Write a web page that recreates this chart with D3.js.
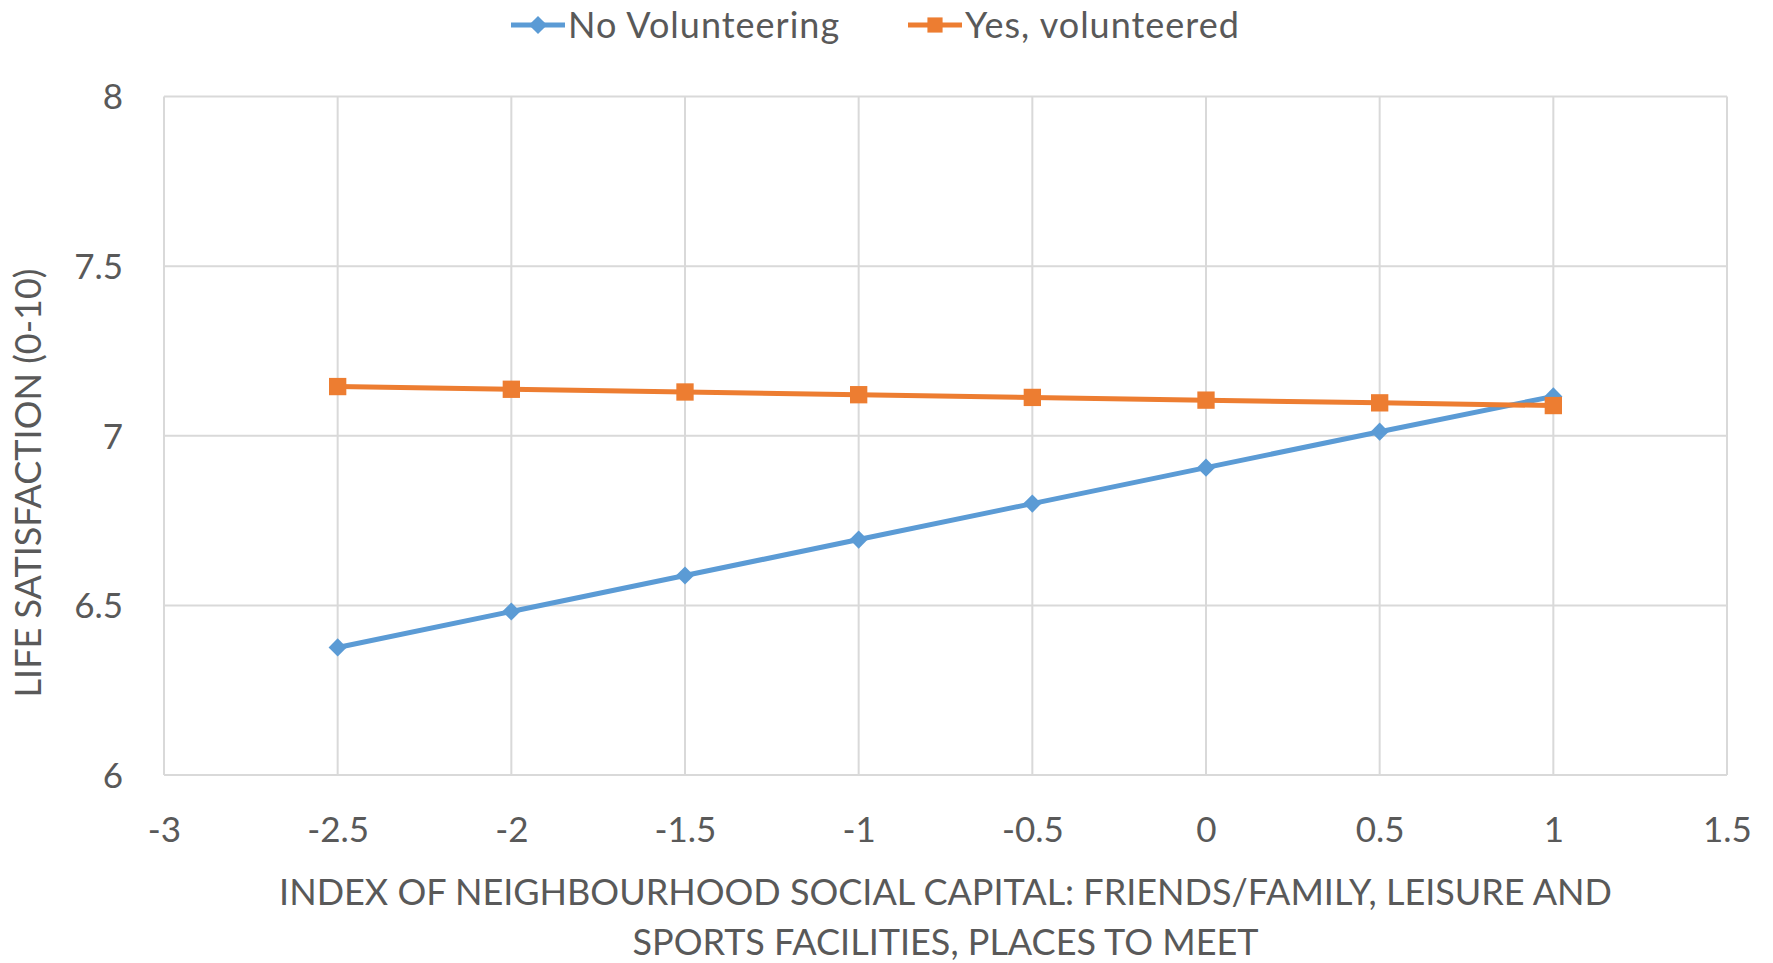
<!DOCTYPE html>
<html>
<head>
<meta charset="utf-8">
<script src="https://cdn.jsdelivr.net/npm/d3@7"></script>
<style>
  html, body { margin: 0; padding: 0; background: #fff; }
  svg { display: block; font-family: Lato, "Open Sans", sans-serif; }
</style>
</head>
<body>
<svg id="chart" width="1773" height="963"></svg>
<script>
// Predicted life satisfaction across the neighbourhood social capital index
const xValues = [-2.5, -2, -1.5, -1, -0.5, 0, 0.5, 1];
const noVolunteering = [6.376, 6.482, 6.588, 6.694, 6.800, 6.906, 7.012, 7.116];
const yesVolunteered = [7.145, 7.137, 7.129, 7.121, 7.113, 7.105, 7.097, 7.089];
const xTicks = [-3, -2.5, -2, -1.5, -1, -0.5, 0, 0.5, 1, 1.5];
const yTicks = [6, 6.5, 7, 7.5, 8];
const seriesNames = ["No Volunteering", "Yes, volunteered"];
const xTitleLines = ["INDEX OF NEIGHBOURHOOD SOCIAL CAPITAL: FRIENDS/FAMILY, LEISURE AND",
                     "SPORTS FACILITIES, PLACES TO MEET"];
const yTitle = "LIFE SATISFACTION (0-10)";

const textColor = "#595959";
const gridColor = "#d9d9d9";
const colors = ["#5b9bd5", "#ed7d31"];

const svg = d3.select("#chart");
const plot = { left: 164, right: 1727, top: 96.5, bottom: 775 };

const x = d3.scaleLinear().domain([-3, 1.5]).range([plot.left, plot.right]);
const y = d3.scaleLinear().domain([6, 8]).range([plot.bottom, plot.top]);
// Plain hyphen for negatives
const fmt = d => String(d);

// Gridlines
const grid = svg.append("g");
grid.selectAll("line.v").data(xTicks).join("line")
  .attr("x1", d => x(d)).attr("x2", d => x(d))
  .attr("y1", plot.top).attr("y2", plot.bottom)
  .attr("stroke", gridColor).attr("stroke-width", 2);
grid.selectAll("line.h").data(yTicks).join("line")
  .attr("x1", plot.left).attr("x2", plot.right)
  .attr("y1", d => y(d)).attr("y2", d => y(d))
  .attr("stroke", gridColor).attr("stroke-width", 2);

// Axes (labels only, lines come from the grid)
const xAxis = svg.append("g").attr("transform", `translate(0,${plot.bottom})`)
  .call(d3.axisBottom(x).tickValues(xTicks).tickSize(0).tickPadding(0).tickFormat(fmt));
xAxis.select(".domain").remove();
xAxis.selectAll("text").attr("dy", null).attr("y", 67)
  .attr("fill", textColor).style("font-size", "35px").style("font-family", "Lato");

const yAxis = svg.append("g").attr("transform", `translate(${plot.left},0)`)
  .call(d3.axisLeft(y).tickValues(yTicks).tickSize(0).tickPadding(0).tickFormat(fmt));
yAxis.select(".domain").remove();
yAxis.selectAll("text").attr("x", -41).attr("dy", "0.35em")
  .attr("fill", textColor).style("font-size", "35px").style("font-family", "Lato");

// Series lines and markers
const series = [noVolunteering, yesVolunteered];
const line = d3.line().x((d, i) => x(xValues[i])).y(d => y(d));
series.forEach((vals, s) => {
  svg.append("path").datum(vals)
    .attr("d", line).attr("fill", "none")
    .attr("stroke", colors[s]).attr("stroke-width", 5).attr("stroke-linejoin", "round");
});
const diamond = d3.symbol().type(d3.symbolDiamond2).size(210);
const square = d3.symbol().type(d3.symbolSquare).size(300);
svg.append("g").selectAll("path").data(noVolunteering).join("path")
  .attr("d", diamond).attr("transform", (d, i) => `translate(${x(xValues[i])},${y(d)})`)
  .attr("fill", colors[0]);
svg.append("g").selectAll("path").data(yesVolunteered).join("path")
  .attr("d", square).attr("transform", (d, i) => `translate(${x(xValues[i])},${y(d)})`)
  .attr("fill", colors[1]);

// Legend
const legendItems = [
  { x: 511, name: seriesNames[0], color: colors[0], sym: diamond },
  { x: 908, name: seriesNames[1], color: colors[1], sym: d3.symbol().type(d3.symbolSquare).size(230) }
];
const legendY = 25;
legendItems.forEach(it => {
  const g = svg.append("g");
  g.append("line").attr("x1", it.x).attr("x2", it.x + 54)
    .attr("y1", legendY).attr("y2", legendY)
    .attr("stroke", it.color).attr("stroke-width", 5);
  g.append("path").attr("d", it.sym)
    .attr("transform", `translate(${it.x + 27},${legendY})`)
    .attr("fill", it.color);
  g.append("text").attr("x", it.x + 57).attr("y", legendY).attr("dy", "0.35em")
    .attr("fill", textColor).style("font-size", "36px").style("letter-spacing", "1px")
    .text(it.name);
});

// Axis titles
svg.append("text")
  .attr("transform", "translate(28,483) rotate(-90)")
  .attr("text-anchor", "middle").attr("dy", "0.35em")
  .attr("fill", textColor).style("font-size", "36px").text(yTitle);

svg.append("g").selectAll("text").data(xTitleLines).join("text")
  .attr("x", (plot.left + plot.right) / 2)
  .attr("y", (d, i) => 892 + i * 50).attr("dy", "0.35em")
  .attr("text-anchor", "middle")
  .attr("fill", textColor).style("font-size", "36px").text(d => d);
</script>
</body>
</html>
